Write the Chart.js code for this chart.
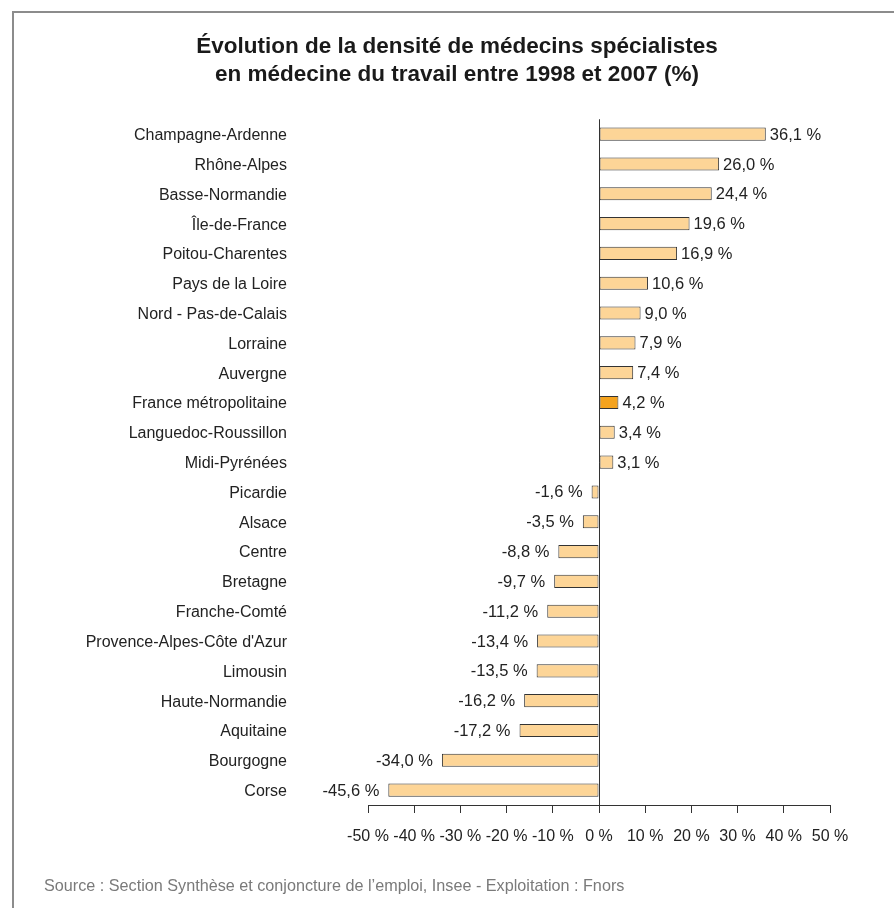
<!DOCTYPE html>
<html lang="fr">
<head>
<meta charset="utf-8">
<title>Densité de médecins spécialistes en médecine du travail</title>
<script src="https://cdn.jsdelivr.net/npm/chart.js@4.4.1/dist/chart.umd.min.js"></script>
<style>
    html, body { margin: 0; padding: 0; background: #fff; }
    #cadre {
        position: absolute; left: 0; top: 0; width: 894px; height: 908px; overflow: hidden;
    }
    #bordure {
        position: absolute; left: 12px; top: 11px; width: 900px; height: 920px;
        border-left: 2px solid #8c8c8c; border-top: 2px solid #8c8c8c;
    }
    #graphique { position: absolute; left: 0; top: 0; }
    #source {
        position: absolute; left: 44px; top: 876px;
        font-family: "Liberation Sans", Arial, sans-serif; font-size: 16.2px; color: #7a7a7a;
    }
</style>
</head>
<body>
<div id="cadre">
    <div id="bordure"></div>
    <canvas id="graphique" width="894" height="908"></canvas>
    <div id="source">Source : Section Synthèse et conjoncture de l’emploi, Insee - Exploitation : Fnors</div>
</div>
<script>
    //Les régions, de haut en bas
    const regions = [
        'Champagne-Ardenne', 'Rhône-Alpes', 'Basse-Normandie', 'Île-de-France',
        'Poitou-Charentes', 'Pays de la Loire', 'Nord - Pas-de-Calais', 'Lorraine',
        'Auvergne', 'France métropolitaine', 'Languedoc-Roussillon', 'Midi-Pyrénées',
        'Picardie', 'Alsace', 'Centre', 'Bretagne', 'Franche-Comté',
        "Provence-Alpes-Côte d'Azur", 'Limousin', 'Haute-Normandie', 'Aquitaine',
        'Bourgogne', 'Corse'
    ];

    //Evolution de la densité 1998-2007 (%)
    const evolution = [
        36.1, 26.0, 24.4, 19.6, 16.9, 10.6, 9.0, 7.9, 7.4, 4.2, 3.4, 3.1,
        -1.6, -3.5, -8.8, -9.7, -11.2, -13.4, -13.5, -16.2, -17.2, -34.0, -45.6
    ];

    //Graduations de l'axe horizontal
    const graduations = [-50, -40, -30, -20, -10, 0, 10, 20, 30, 40, 50];

    const regionFrance = 'France métropolitaine';
    const police = '"Liberation Sans", Arial, sans-serif';
    const couleurTexte = '#222222';

    const formatPourcent = v => v.toFixed(1).replace('.', ',') + ' %';

    //Les étiquettes de valeur au bout des barres
    const etiquettesValeurs = {
        id: 'etiquettesValeurs',
        afterDatasetsDraw(chart) {
            const ctx = chart.ctx;
            const meta = chart.getDatasetMeta(0);
            ctx.save();
            ctx.font = '16.5px ' + police;
            ctx.fillStyle = couleurTexte;
            ctx.textBaseline = 'middle';
            meta.data.forEach((barre, i) => {
                const v = evolution[i];
                if (v >= 0) {
                    ctx.textAlign = 'left';
                    ctx.fillText(formatPourcent(v), barre.x + 4, barre.y + 1);
                } else {
                    ctx.textAlign = 'right';
                    ctx.fillText(formatPourcent(v), barre.x - 9, barre.y + 1);
                }
            });
            ctx.restore();
        }
    };

    const graphique = document.getElementById('graphique').getContext('2d');
    const chart = new Chart(graphique, {
        type: 'bar',
        data: {
            labels: regions,
            datasets: [{
                data: evolution,
                backgroundColor: regions.map(r => r === regionFrance ? '#F5A31E' : '#FDD597'),
                borderColor: '#333333',
                borderWidth: 1,
                borderSkipped: false,
                barPercentage: 0.44,
                categoryPercentage: 1
            }]
        },
        plugins: [etiquettesValeurs],
        options: {
            indexAxis: 'y',
            responsive: false,
            animation: false,
            layout: {
                padding: { top: 0, left: 84, right: 64, bottom: 0 }
            },
            plugins: {
                legend: { display: false },
                tooltip: { enabled: false },
                title: {
                    display: true,
                    text: ['Évolution de la densité de médecins spécialistes',
                           'en médecine du travail entre 1998 et 2007 (%)'],
                    color: '#1a1a1a',
                    font: { family: police, size: 22.5, weight: 'bold', lineHeight: 1.25 },
                    padding: { top: 33, bottom: 30 }
                }
            },
            scales: {
                x: {
                    min: -50,
                    max: 50,
                    afterBuildTicks: scale => {
                        scale.ticks = graduations.map(v => ({ value: v }));
                    },
                    afterFit: scale => { scale.height = 103; },
                    ticks: {
                        callback: v => v + ' %',
                        color: couleurTexte,
                        font: { family: police, size: 16 },
                        padding: 14,
                        maxRotation: 0,
                        autoSkip: false
                    },
                    grid: {
                        drawOnChartArea: true,
                        color: c => (c.tick && c.tick.value === 0) ? '#333333' : 'rgba(0,0,0,0)',
                        tickColor: '#333333',
                        tickLength: 8
                    },
                    border: { display: true, color: '#333333', width: 1 }
                },
                y: {
                    afterFit: scale => { scale.width = 284; },
                    ticks: {
                        color: couleurTexte,
                        font: { family: police, size: 16 },
                        padding: 73,
                        labelOffset: 1.5,
                        autoSkip: false
                    },
                    grid: { display: false },
                    border: { display: false }
                }
            }
        }
    });
</script>
</body>
</html>
